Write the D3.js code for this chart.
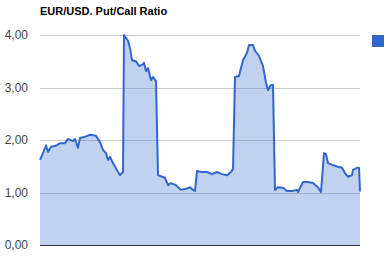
<!DOCTYPE html>
<html>
<head>
<meta charset="utf-8">
<script src="https://cdn.jsdelivr.net/npm/d3@7"></script>
<style>
  body { margin: 0; background: #fff; }
  text { font-family: "Liberation Sans", Arial, sans-serif; }
</style>
</head>
<body>
<div id="chart"></div>
<script>
const WIDTH = 386;
const HEIGHT = 258;
const PLOT = { left: 40, right: 360, top: 35, bottom: 245 };

const title = "EUR/USD. Put/Call Ratio";
const tickValues = [0, 1, 2, 3, 4];

// session number along the x axis and the ratio
const days = [
    0, 3, 6, 8, 11, 16, 20, 25, 28, 33, 35, 38, 40, 45, 50, 56, 60, 63, 66, 68,
    70, 73, 78, 80, 83, 84, 88, 90, 92, 96, 99, 102, 104, 106, 108, 111, 113, 116, 118, 121,
    125, 128, 131, 136, 141, 146, 150, 153, 155, 157, 161, 167, 172, 177, 182, 187, 191, 193, 195, 199,
    203, 207, 209, 213, 215, 219, 223, 226, 228, 231, 233, 235, 238, 243, 247, 252, 257, 258, 263, 268,
    273, 278, 281, 284, 286, 288, 293, 298, 302, 305, 308, 312, 313, 317, 319, 320
];
const ratios = [
    1.62, 1.75, 1.90, 1.77, 1.87, 1.89, 1.94, 1.94, 2.02, 1.98, 2.02, 1.85, 2.04, 2.06, 2.10, 2.08, 1.96, 1.81, 1.75, 1.62,
    1.68, 1.56, 1.39, 1.33, 1.39, 4.00, 3.89, 3.75, 3.52, 3.50, 3.41, 3.43, 3.47, 3.31, 3.37, 3.14, 3.20, 3.12, 1.33, 1.31,
    1.28, 1.14, 1.18, 1.14, 1.05, 1.07, 1.10, 1.05, 1.03, 1.41, 1.39, 1.39, 1.35, 1.39, 1.35, 1.33, 1.39, 1.45, 3.20, 3.22,
    3.52, 3.66, 3.81, 3.81, 3.70, 3.60, 3.41, 3.09, 2.95, 3.05, 3.05, 1.05, 1.10, 1.09, 1.03, 1.03, 1.05, 1.01, 1.20, 1.20,
    1.18, 1.10, 1.01, 1.75, 1.73, 1.56, 1.52, 1.49, 1.47, 1.37, 1.30, 1.33, 1.43, 1.47, 1.47, 1.02
];

const data = days.map((d, i) => ({ day: d, value: ratios[i] }));

const svg = d3.select("#chart")
    .append("svg")
    .attr("width", WIDTH)
    .attr("height", HEIGHT);

const x = d3.scaleLinear()
    .domain([0, 320])
    .range([PLOT.left, PLOT.right]);

const y = d3.scaleLinear()
    .domain([0, 4])
    .range([PLOT.bottom, PLOT.top]);

// gridlines first, the translucent area sits on top of them
svg.append("g")
    .attr("class", "grid")
    .selectAll("line")
    .data(tickValues.filter(t => t > 0))
    .join("line")
    .attr("x1", PLOT.left)
    .attr("x2", PLOT.right)
    .attr("y1", d => Math.round(y(d)) + 0.5)
    .attr("y2", d => Math.round(y(d)) + 0.5)
    .attr("stroke", "#cccccc")
    .attr("stroke-width", 1);

const yAxis = d3.axisLeft(y)
    .tickValues(tickValues)
    .tickSize(0)
    .tickPadding(12)
    .tickFormat(d => d3.format(".2f")(d).replace(".", ","));

const gy = svg.append("g")
    .attr("transform", "translate(" + PLOT.left + ",0)")
    .call(yAxis);
gy.select(".domain").remove();
gy.selectAll("text")
    .attr("fill", "#444444")
    .style("font-size", "12px");

const area = d3.area()
    .x(d => x(d.day))
    .y0(y(0))
    .y1(d => y(d.value));

const line = d3.line()
    .x(d => x(d.day))
    .y(d => y(d.value));

svg.append("path")
    .datum(data)
    .attr("d", area)
    .attr("fill", "#3366cc")
    .attr("fill-opacity", 0.3);

svg.append("path")
    .datum(data)
    .attr("d", line)
    .attr("fill", "none")
    .attr("stroke", "#3366cc")
    .attr("stroke-width", 2)
    .attr("stroke-linejoin", "round");

// baseline
svg.append("line")
    .attr("x1", PLOT.left)
    .attr("x2", PLOT.right)
    .attr("y1", y(0) + 0.5)
    .attr("y2", y(0) + 0.5)
    .attr("stroke", "#333333");

svg.append("text")
    .attr("x", PLOT.left)
    .attr("y", 15)
    .attr("fill", "#000")
    .style("font-size", "11px")
    .style("font-weight", "bold")
    .text(title);

// legend swatch, its label falls outside the picture
svg.append("rect")
    .attr("x", 372)
    .attr("y", 35)
    .attr("width", 12)
    .attr("height", 12)
    .attr("fill", "#3366cc");
</script>
</body>
</html>
